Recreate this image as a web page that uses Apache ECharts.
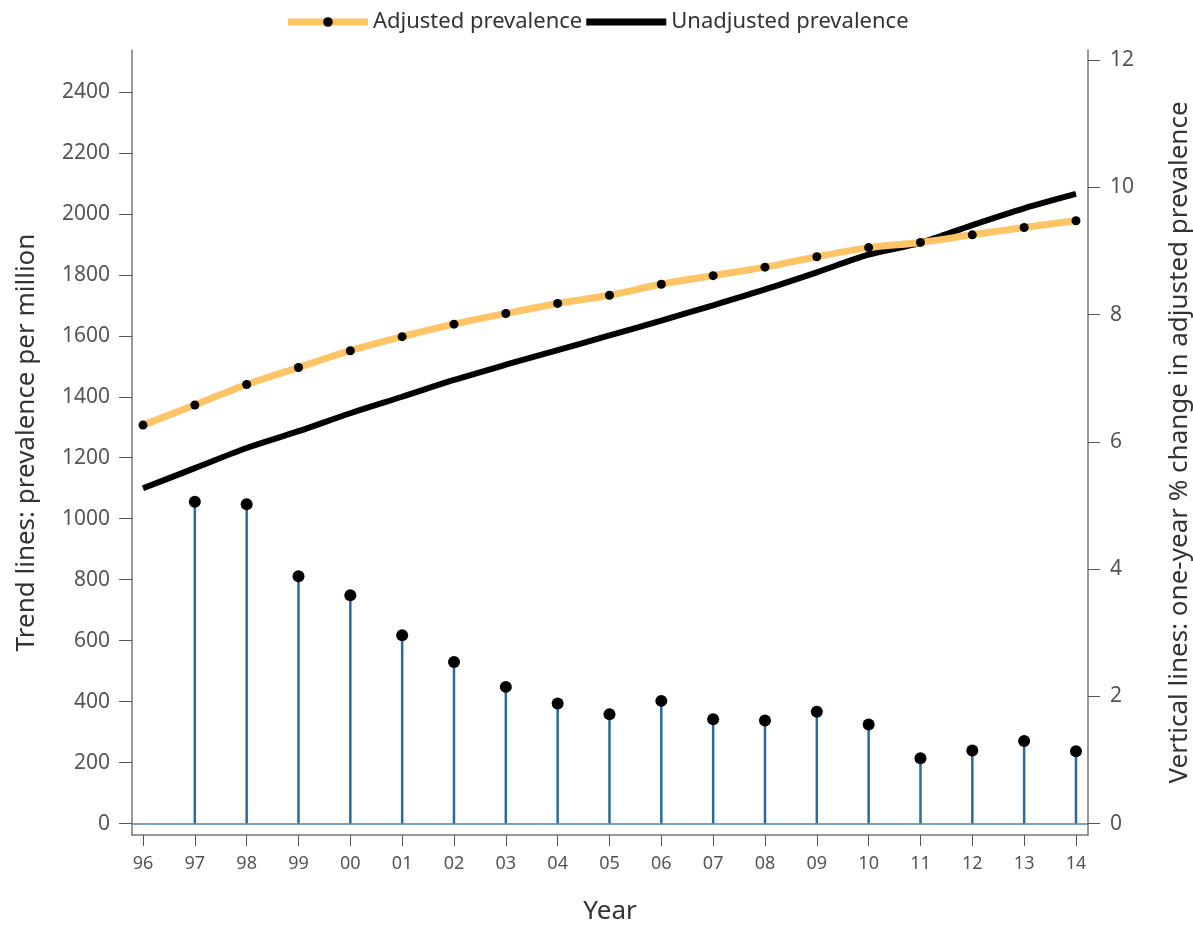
<!DOCTYPE html>
<html>
<head>
<meta charset="utf-8">
<script src="https://cdn.jsdelivr.net/npm/echarts@6/dist/echarts.min.js"></script>
<style>
  html, body { margin: 0; padding: 0; background: #fff; }
  #chart { width: 1193px; height: 926px; }
</style>
</head>
<body>
<div id="chart"></div>
<script>
// years on the x axis
var years = ['96', '97', '98', '99', '00', '01', '02', '03', '04', '05', '06', '07', '08', '09', '10', '11', '12', '13', '14'];
// trend lines, prevalence per million
var adjusted = [1307, 1373, 1440, 1496, 1551, 1597, 1638, 1673, 1706, 1733, 1769, 1797, 1825, 1859, 1889, 1906, 1931, 1955, 1977];
var unadjusted = [1100, 1166, 1232, 1287, 1346, 1400, 1455, 1505, 1553, 1601, 1650, 1700, 1752, 1808, 1866, 1905, 1963, 2018, 2065];
// vertical lines, one-year % change
var change = [null, 5.06, 5.02, 3.89, 3.59, 2.96, 2.54, 2.15, 1.89, 1.72, 1.93, 1.64, 1.62, 1.76, 1.56, 1.03, 1.15, 1.30, 1.14];
var leftTicks = [0, 200, 400, 600, 800, 1000, 1200, 1400, 1600, 1800, 2000, 2200, 2400];
var rightTicks = [0, 2, 4, 6, 8, 10, 12];

var font = 'Noto Sans';
var chart = echarts.init(document.getElementById('chart'));

var pairs = function (arr) {
    var out = [];
    for (var i = 0; i < arr.length; i++) {
        out.push([i, arr[i]]);
    }
    return out;
};
var xTicks = years.map(function (y, i) { return i; });
var plain = function (v) { return String(v); };

var option = {
    animation: false,
    textStyle: { fontFamily: font },
    legend: {
        data: [
            { name: 'Adjusted prevalence', lineStyle: { width: 7, color: '#ffc466' } },
            { name: 'Unadjusted prevalence', icon: 'path://M0,0H80V7H0Z', itemStyle: { color: '#000' } }
        ],
        top: 6,
        left: 'center',
        itemWidth: 80,
        itemHeight: 12,
        itemGap: 4,
        textStyle: { fontSize: 22, color: '#333', fontFamily: font }
    },
    grid: { left: 132, right: 105, top: 50, bottom: 91, outerBoundsMode: 'none', containLabel: false },
    xAxis: {
        type: 'value',
        min: -0.212,
        max: 18.232,
        name: 'Year',
        nameLocation: 'middle',
        nameGap: 64,
        nameTextStyle: { fontSize: 26, color: '#333' },
        axisLine: { onZero: false, lineStyle: { color: '#777', width: 1.5 } },
        axisTick: { customValues: xTicks, length: 11, lineStyle: { color: '#555' } },
        axisLabel: {
            customValues: xTicks,
            margin: 20,
            fontSize: 18,
            color: '#555',
            formatter: function (v) { return years[Math.round(v)]; }
        },
        splitLine: { show: false }
    },
    yAxis: [
        {
            type: 'value',
            position: 'left',
            min: -37,
            max: 2537,
            name: 'Trend lines: prevalence per million',
            nameLocation: 'middle',
            nameGap: 92,
            nameTextStyle: { fontSize: 26, color: '#333' },
            axisLine: { show: true, onZero: false, lineStyle: { color: '#777', width: 1.5 } },
            axisTick: { show: true, customValues: leftTicks, length: 13, lineStyle: { color: '#555' } },
            axisLabel: { customValues: leftTicks, margin: 22, fontSize: 21, color: '#555', formatter: plain },
            splitLine: { show: false }
        },
        {
            type: 'value',
            position: 'right',
            min: -0.178,
            max: 12.16,
            name: 'Vertical lines: one-year % change in adjusted prevalence',
            nameLocation: 'middle',
            nameGap: 79,
            nameTextStyle: { fontSize: 26, color: '#333' },
            axisLine: { show: true, onZero: false, lineStyle: { color: '#777', width: 1.5 } },
            axisTick: { show: true, customValues: rightTicks, length: 12, lineStyle: { color: '#555' } },
            axisLabel: { customValues: rightTicks, margin: 22, fontSize: 21, color: '#555', formatter: plain },
            splitLine: { show: false }
        }
    ],
    series: [
        {
            name: 'stems',
            type: 'bar',
            yAxisIndex: 1,
            barWidth: 2.5,
            itemStyle: { color: '#2b6a99' },
            data: pairs(change),
            markLine: {
                silent: true,
                symbol: 'none',
                label: { show: false },
                lineStyle: { color: '#4a82ad', type: 'solid', width: 1.5 },
                data: [{ yAxis: 0 }]
            }
        },
        {
            name: 'stem tops',
            type: 'scatter',
            yAxisIndex: 1,
            symbolSize: 12,
            itemStyle: { color: '#000', opacity: 1 },
            data: pairs(change).filter(function (d) { return d[1] !== null; })
        },
        {
            name: 'Unadjusted prevalence',
            type: 'line',
            yAxisIndex: 0,
            smooth: 0.3,
            showSymbol: false,
            symbol: 'none',
            lineStyle: { color: '#000', width: 6 },
            itemStyle: { color: '#000' },
            data: pairs(unadjusted)
        },
        {
            name: 'Adjusted prevalence',
            type: 'line',
            yAxisIndex: 0,
            smooth: 0.3,
            symbol: 'circle',
            symbolSize: 9,
            lineStyle: { color: '#ffc466', width: 7 },
            itemStyle: { color: '#000' },
            data: pairs(adjusted)
        }
    ]
};

chart.setOption(option);
</script>
</body>
</html>
